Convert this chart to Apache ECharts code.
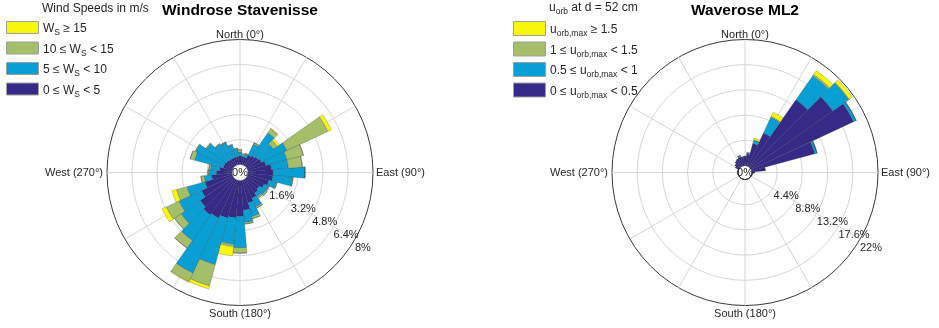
<!DOCTYPE html>
<html>
<head>
<meta charset="utf-8">
<script src="https://cdn.jsdelivr.net/npm/echarts@6/dist/echarts.min.js"></script>
<style>
  html, body { margin: 0; padding: 0; background: #ffffff; }
  #chart { width: 939px; height: 328px; }
</style>
</head>
<body>
<div id="chart"></div>
<script>
// Direction bins (degrees from north, 10 degree sectors)
const directions = ['0','10','20','30','40','50','60','70','80','90','100','110',
  '120','130','140','150','160','170','180','190','200','210','220','230',
  '240','250','260','270','280','290','300','310','320','330','340','350'];

// Windrose Stavenisse: frequency (%) per direction for each wind speed class
const wind0to5 = [0.55,0.5,0.5,0.7,0.8,0.9,1.0,1.2,1.5,1.6,1.6,1.4,
  1.2,1.0,1.1,1.3,1.5,1.9,2.3,2.4,2.5,2.7,2.8,2.6,
  2.2,1.8,1.3,1.0,0.8,0.6,0.6,0.55,0.5,0.5,0.5,0.5];
const wind5to10 = [0.25,0.1,0.2,0.8,1.8,1.2,1.8,1.4,1.1,2.05,1.25,0.5,
  0.3,0.5,0.3,0.6,0.9,0.8,2.0,1.7,3.1,3.9,2.0,1.5,
  1.6,1.2,0.5,0.5,0.6,1.9,2.0,1.55,1.2,1.1,0.8,0.5];
const wind10to15 = [0.15,0.1,0.05,0.1,0.3,0.3,2.9,1.1,0.9,0,0.05,0.05,
  0.05,0.1,0.1,0.1,0.15,0.1,0.35,0.15,1.4,0.6,0.6,0.5,
  0.9,0.7,0.2,0.05,0.1,0.3,0.05,0.05,0.05,0.05,0.05,0.05];
const wind15up = [0,0,0,0,0.05,0.15,0.25,0,0,0,0,0,
  0,0,0,0,0,0,0,0.6,0.2,0.05,0,0,
  0.3,0.3,0,0,0,0,0,0,0,0,0,0];

// Waverose ML2: frequency (%) per direction for each orbital velocity class
const orb0to05 = [1.5,2.0,4.0,6.4,14.3,17.5,19.7,11.4,2.3,0.4,0,0,
  0,0,0,0,0,0,0,0,0,0,0,0,
  0,0,0,0,0,0,0.6,0.9,1.2,1.4,1.6,1.4];
const orb05to1 = [0.1,0.2,0.6,3.0,5.1,3.4,0.5,0.4,0,0,0,0,
  0,0,0,0,0,0,0,0,0,0,0,0,
  0,0,0,0,0,0,0,0,0,0,0.2,0.1];
const orb1to15 = [0,0.05,0.1,0.2,0.3,0.15,0,0,0,0,0,0,
  0,0,0,0,0,0,0,0,0,0,0,0,
  0,0,0,0,0,0,0,0,0,0,0.05,0];
const orb15up = [0,0.05,0.3,0.8,0.8,0.65,0,0,0,0,0,0,
  0,0,0,0,0,0,0,0,0,0,0,0,
  0,0,0,0,0,0,0,0,0,0,0.05,0];

// Radial tick labels
const windTicks = ['1.6%','3.2%','4.8%','6.4%','8%'];
const waveTicks = ['4.4%','8.8%','13.2%','17.6%','22%'];

const FONT = '"Liberation Sans", Arial, Helvetica, sans-serif';
const TXT = '#262626';
const COLORS = ['#352A87', '#08A0D4', '#A5BE6A', '#F7F70E'];
const GRID = '#d6d6d6';
const FRAME = '#3a3a3a';

const roses = [
  { cx: 240, cy: 172.5, r0: 8, r1: 133, max: 8, step: 1.6, ticks: windTicks,
    series: [wind0to5, wind5to10, wind10to15, wind15up],
    names: ['0 ≤ Ws < 5', '5 ≤ Ws < 10', '10 ≤ Ws < 15', 'Ws ≥ 15'],
    holeColor: 'rgba(255,255,255,0)' },
  { cx: 745, cy: 172.5, r0: 7, r1: 133, max: 22, step: 4.4, ticks: waveTicks,
    series: [orb0to05, orb05to1, orb1to15, orb15up],
    names: ['0 ≤ uorb,max < 0.5', '0.5 ≤ uorb,max < 1', '1 ≤ uorb,max < 1.5', 'uorb,max ≥ 1.5'],
    holeColor: '#5a52a3' }
];

const polar = [], angleAxis = [], radiusAxis = [], series = [], graphic = [];

roses.forEach((rose, k) => {
  const gi = k * 2, bi = k * 2 + 1;
  polar.push({ center: [rose.cx, rose.cy], radius: [rose.r0, rose.r1] });
  polar.push({ center: [rose.cx, rose.cy], radius: [rose.r0, rose.r1] });

  // grid polar: spokes every 30 degrees, rings every tick, dark outer frame ring
  angleAxis.push({
    polarIndex: gi, type: 'value', min: 0, max: 360, interval: 30,
    startAngle: 90, clockwise: true,
    axisLine: { show: false },
    axisTick: { show: false }, axisLabel: { show: false },
    splitLine: { show: true, lineStyle: { color: GRID, width: 1 } }
  });
  radiusAxis.push({
    polarIndex: gi, type: 'value', min: 0, max: rose.max, interval: rose.step,
    axisLine: { show: false }, axisTick: { show: false }, axisLabel: { show: false },
    splitLine: { show: true, lineStyle: { color: [rose.holeColor, GRID, GRID, GRID, GRID, FRAME], width: 1 } }
  });

  // bar polar: 36 sectors centred on the compass directions
  angleAxis.push({
    polarIndex: bi, type: 'category', data: directions, startAngle: 95, clockwise: true,
    axisLine: { show: false }, axisTick: { show: false }, axisLabel: { show: false },
    splitLine: { show: false }
  });
  radiusAxis.push({
    polarIndex: bi, type: 'value', min: 0, max: rose.max,
    axisLine: { show: false }, axisTick: { show: false }, axisLabel: { show: false },
    splitLine: { show: false }
  });

  rose.series.forEach((vals, j) => {
    series.push({
      type: 'bar', coordinateSystem: 'polar', polarIndex: bi,
      name: rose.names[j], stack: 'rose' + k, data: vals,
      barCategoryGap: '0%', silent: true,
      itemStyle: { color: COLORS[j], borderColor: 'rgba(40,40,60,0.45)', borderWidth: 0.5 }
    });
  });

  // radial tick labels along the 121 degree bearing
  const th = 121 * Math.PI / 180;
  rose.ticks.forEach((t, i) => {
    const rp = rose.r0 + (rose.r1 - rose.r0) * (i + 1) / rose.ticks.length;
    graphic.push({
      type: 'text', x: rose.cx + rp * Math.sin(th) + 1, y: rose.cy - rp * Math.cos(th) + 1,
      style: { text: t, font: '11px ' + FONT, fill: TXT, align: 'left', verticalAlign: 'top' }, z: 50
    });
  });

  // centre label and compass labels
  graphic.push({ type: 'text', x: rose.cx, y: rose.cy,
    style: { text: '0%', font: '11px ' + FONT, fill: TXT, align: 'center', verticalAlign: 'middle' }, z: 50 });
  graphic.push({ type: 'text', x: rose.cx, y: rose.cy - 138,
    style: { text: 'North (0°)', font: '11px ' + FONT, fill: TXT, align: 'center', verticalAlign: 'middle' }, z: 50 });
  graphic.push({ type: 'text', x: rose.cx, y: rose.cy + 141,
    style: { text: 'South (180°)', font: '11px ' + FONT, fill: TXT, align: 'center', verticalAlign: 'middle' }, z: 50 });
  graphic.push({ type: 'text', x: rose.cx + 136, y: rose.cy,
    style: { text: 'East (90°)', font: '11px ' + FONT, fill: TXT, align: 'left', verticalAlign: 'middle' }, z: 50 });
  graphic.push({ type: 'text', x: rose.cx - 137, y: rose.cy,
    style: { text: 'West (270°)', font: '11px ' + FONT, fill: TXT, align: 'right', verticalAlign: 'middle' }, z: 50 });
});

// Titles
graphic.push({ type: 'text', x: 240, y: 11,
  style: { text: 'Windrose Stavenisse', font: 'bold 15.5px ' + FONT, fill: '#000', align: 'center', verticalAlign: 'middle' } });
graphic.push({ type: 'text', x: 745, y: 11,
  style: { text: 'Waverose ML2', font: 'bold 15.5px ' + FONT, fill: '#000', align: 'center', verticalAlign: 'middle' } });

// Legends (rich text for subscripts)
const rich = {
  n: { fontSize: 12, fontFamily: FONT, fill: TXT },
  s: { fontSize: 8.5, fontFamily: FONT, fill: TXT, padding: [8, 0, 0, 0] }
};
function legend(x0, titleText, titleY, items, rectH) {
  graphic.push({ type: 'text', x: x0 + 36, y: titleY,
    style: { text: titleText, rich: rich, align: 'left', verticalAlign: 'middle' } });
  items.forEach((it, i) => {
    const y = 21 + i * 20.5;
    graphic.push({ type: 'rect', shape: { x: x0 + 0.5, y: y + 0.5, width: 32, height: rectH },
      style: { fill: it.c, stroke: '#a0a0a0', lineWidth: 1 } });
    graphic.push({ type: 'text', x: x0 + 37, y: y + rectH / 2 + 2,
      style: { text: it.t, rich: rich, align: 'left', verticalAlign: 'middle' } });
  });
}
legend(6, '{n|Wind Speeds in m/s}', 9, [
  { c: COLORS[3], t: '{n|W}{s|S}{n| ≥ 15}' },
  { c: COLORS[2], t: '{n|10 ≤ W}{s|S}{n| < 15}' },
  { c: COLORS[1], t: '{n|5 ≤ W}{s|S}{n| < 10}' },
  { c: COLORS[0], t: '{n|0 ≤ W}{s|S}{n| < 5}' }
], 12);
legend(513, '{n|u}{s|orb}{n| at d = 52 cm}', 8, [
  { c: COLORS[3], t: '{n|u}{s|orb,max}{n| ≥ 1.5}' },
  { c: COLORS[2], t: '{n|1 ≤ u}{s|orb,max}{n| < 1.5}' },
  { c: COLORS[1], t: '{n|0.5 ≤ u}{s|orb,max}{n| < 1}' },
  { c: COLORS[0], t: '{n|0 ≤ u}{s|orb,max}{n| < 0.5}' }
], 14);

const chart = echarts.init(document.getElementById('chart'), null, { renderer: 'canvas' });
chart.setOption({
  animation: false,
  backgroundColor: '#ffffff',
  polar: polar,
  angleAxis: angleAxis,
  radiusAxis: radiusAxis,
  series: series,
  graphic: graphic
});
</script>
</body>
</html>
